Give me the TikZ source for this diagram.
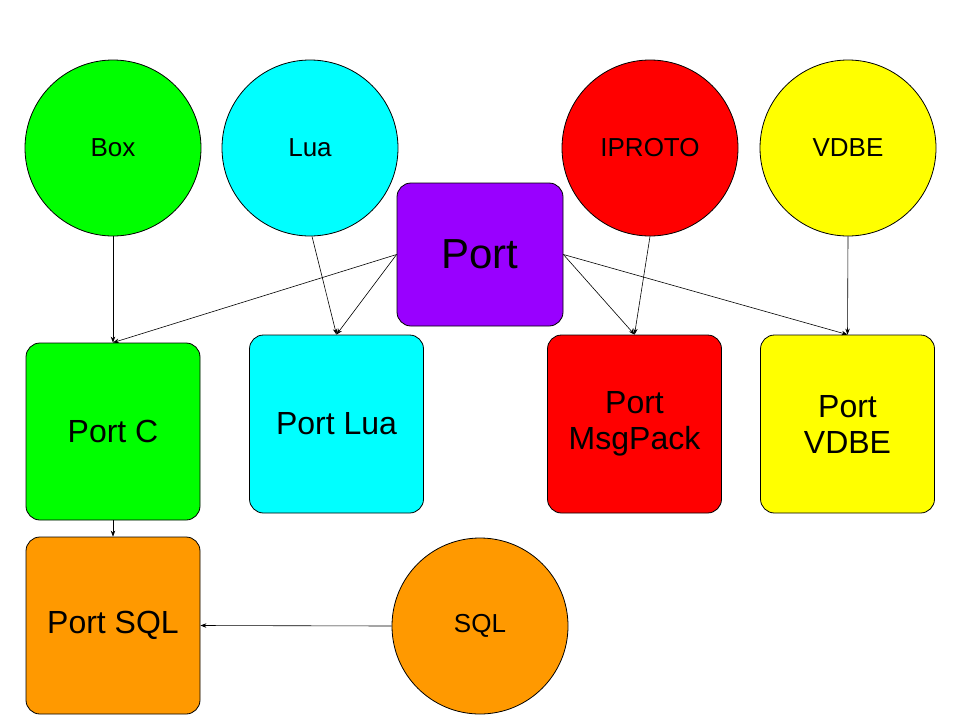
\documentclass[tikz,border=0pt]{standalone}
\usepackage{fontspec}
\setmainfont{Liberation Sans}
\usetikzlibrary{arrows.meta}
\definecolor{cgreen}{HTML}{00FF00}
\definecolor{ccyan}{HTML}{00FFFF}
\definecolor{cred}{HTML}{FF0000}
\definecolor{cyellow}{HTML}{FFFF00}
\definecolor{corange}{HTML}{FF9900}
\definecolor{cviolet}{HTML}{9900FF}
\begin{document}
\begin{tikzpicture}[x=1pt,y=-1pt,
  circ/.style={circle,draw=black,line width=0.8pt,minimum size=176pt,inner sep=0pt,font=\fontsize{26}{30}\selectfont},
  rbox/.style={rectangle,rounded corners=14pt,draw=black,line width=0.8pt,minimum width=174pt,minimum height=178pt,inner sep=0pt,align=center,font=\fontsize{32}{36}\selectfont},
  conn/.style={-{Stealth[length=6pt,width=4.5pt]},line width=0.6pt,black}]
\useasboundingbox (0,0) rectangle (960,720);
\node[circ,fill=cgreen] (box) at (113,148) {Box};
\node[circ,fill=ccyan] (lua) at (310,148) {Lua};
\node[circ,fill=cred] (iproto) at (650,148) {IPROTO};
\node[circ,fill=cyellow] (vdbe) at (848,148) {VDBE};
\node[circ,fill=corange] (sql) at (480,626) {SQL};
\node[rbox,fill=cviolet,minimum width=166pt,minimum height=143pt,font=\fontsize{42}{48}\selectfont] (port) at (480,254.5) {Port};
\node[rbox,fill=cgreen,minimum height=177pt] (portc) at (113,431.5) {Port C};
\node[rbox,fill=ccyan] (portlua) at (336.5,424) {Port Lua};
\node[rbox,fill=cred] (portmp) at (634.5,424) {Port\\MsgPack};
\node[rbox,fill=cyellow] (portvdbe) at (847.5,424) {Port\\VDBE};
\node[rbox,fill=corange,minimum height=177pt] (portsql) at (113,625.5) {Port SQL};
\draw[conn] (box.south) -- (portc.north);
\draw[conn] (port.west) -- (portc.north);
\draw[conn] (lua.south) ++(2,0) -- (portlua.north);
\draw[conn] (port.west) -- (portlua.north);
\draw[conn] (iproto.south) -- (portmp.north);
\draw[conn] (port.east) -- (portmp.north);
\draw[conn] (port.east) -- (portvdbe.north);
\draw[conn] (vdbe.south) -- (portvdbe.north);
\draw[conn] (portc.south) -- (portsql.north);
\draw[conn] (sql.west) -- (portsql.east);
\end{tikzpicture}
\end{document}
